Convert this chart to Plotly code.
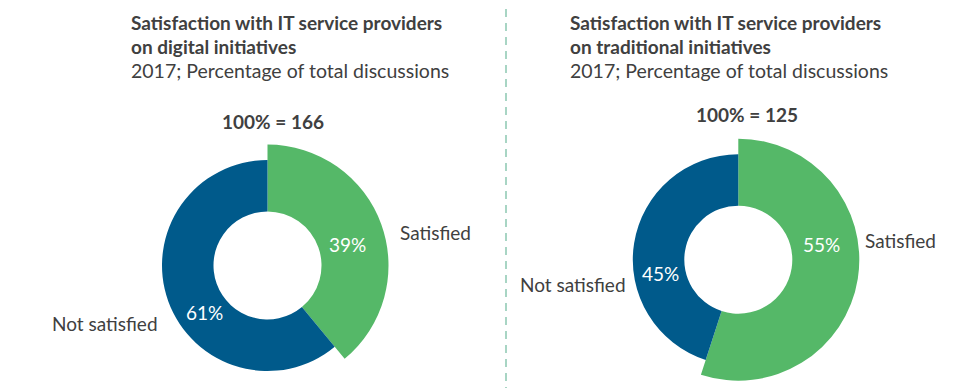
import plotly.graph_objects as go

W, H = 969, 388

categories = ["Satisfied", "Not satisfied"]
digital_values = [39, 61]
traditional_values = [55, 45]
digital_total = 166
traditional_total = 125
titles = [
    ["Satisfaction with IT service providers", "on digital initiatives"],
    ["Satisfaction with IT service providers", "on traditional initiatives"],
]
subtitle = "2017; Percentage of total discussions"

GREEN = "#55b868"
BLUE = "#005a8b"
TEXT = "#404040"
FONT = "Lato"

def px_x(x):
    return x / W

def px_y(y):
    return 1 - y / H

fig = go.Figure()

def add_donut(values, cx, cy, r_sat, r_not, r_hole):
    # satisfied slice (larger radius), not-satisfied slice (smaller radius)
    for r, colors in ((r_sat, [GREEN, "rgba(0,0,0,0)"]), (r_not, ["rgba(0,0,0,0)", BLUE])):
        fig.add_trace(go.Pie(
            labels=categories, values=values, sort=False, direction="clockwise",
            rotation=0, hole=r_hole / r,
            marker=dict(colors=colors, line=dict(width=0)),
            textinfo="none", showlegend=False, hoverinfo="label+percent",
            domain=dict(x=[px_x(cx - r), px_x(cx + r)], y=[px_y(cy + r), px_y(cy - r)]),
        ))

add_donut(digital_values, 267.5, 265.5, 121, 105.5, 54)
add_donut(traditional_values, 738.3, 259.7, 121, 105.5, 54)

ann = []
def text(x, y, s, size=20, bold=False, color=TEXT, xanchor="left"):
    ann.append(dict(x=px_x(x), y=px_y(y), xref="paper", yref="paper", text=("<b>%s</b>" % s) if bold else s,
                    showarrow=False, xanchor=xanchor, yanchor="middle",
                    font=dict(family=FONT, size=size, color=color)))

for left, t in ((129, titles[0]), (568, titles[1])):
    text(left, 22, t[0], bold=True, size=19)
    text(left, 46, t[1], bold=True, size=19)
    text(left, 70, subtitle, size=19.5)

text(273, 121, "100%% = %d" % digital_total, bold=True, size=19, xanchor="center")
text(747, 114, "100%% = %d" % traditional_total, bold=True, size=19, xanchor="center")

# category labels
text(435, 232, categories[0], size=19, xanchor="center")
text(105, 323, categories[1], size=19, xanchor="center")
text(900, 240, categories[0], size=19, xanchor="center")
text(573, 284, categories[1], size=19, xanchor="center")

# percentage labels
text(347, 244, "%d%%" % digital_values[0], size=19, color="white", xanchor="center")
text(204, 312, "%d%%" % digital_values[1], size=19, color="white", xanchor="center")
text(821, 244, "%d%%" % traditional_values[0], size=19, color="white", xanchor="center")
text(660, 273, "%d%%" % traditional_values[1], size=19, color="white", xanchor="center")

fig.update_layout(
    width=W, height=H, margin=dict(l=0, r=0, t=0, b=0),
    paper_bgcolor="white", plot_bgcolor="white",
    annotations=ann,
    shapes=[dict(type="line", xref="paper", yref="paper", x0=px_x(506), x1=px_x(506),
                 y0=px_y(9), y1=0, line=dict(color="#a8d5c4", width=2, dash="8px,6px"))],
)

fig.write_html("out.html", config={"displayModeBar": False},
               post_script="document.body.style.margin='0';document.body.style.overflow='hidden';")
